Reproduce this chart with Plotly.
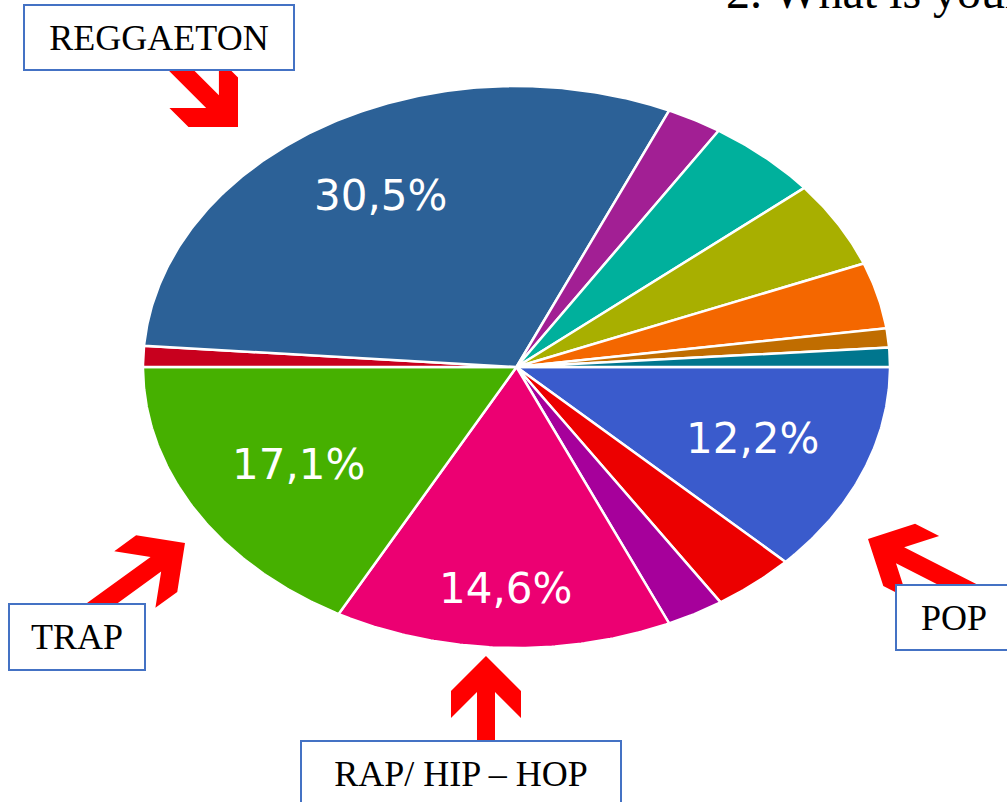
import numpy as np
import plotly.graph_objects as go

# ---- data: slices listed clockwise starting at 3 o'clock ----
genres = ["POP", "Other 1", "Other 2", "RAP/ HIP – HOP", "TRAP", "Other 3",
          "REGGAETON", "Other 4", "Other 5", "Other 6", "Other 7", "Other 8", "Other 9"]
shares = [12.2, 3.6, 2.5, 14.6, 17.1, 1.2, 30.5, 2.4, 4.9, 5.0, 3.8, 1.1, 1.1]
colors = ["#3A5BCC", "#EC0000", "#A6009B", "#EC0072", "#46B000", "#C8001E",
          "#2C6197", "#A21F94", "#00B09C", "#A8AF00", "#F46700", "#C06D00", "#00768E"]
labelled = ["POP", "RAP/ HIP – HOP", "TRAP", "REGGAETON"]

callouts = ["REGGAETON", "TRAP", "RAP/ HIP – HOP", "POP"]
heading = "2. What is your"

# ---- layout geometry (pixels) ----
W, H = 1007, 802
CX, CY, RX, RY = 516.5, 367.0, 373.5, 281.0   # ellipse centre and radii
label_r = {"POP": 0.68, "RAP/ HIP – HOP": 0.79, "TRAP": 0.68, "REGGAETON": 0.71}

fig = go.Figure()

# pie slices drawn as filled wedges in unit-circle data space;
# the axis ranges stretch the circle into the ellipse
start = 0.0
mids = {}
for name, v, c in zip(genres, shares, colors):
    span = v / 100.0 * 2 * np.pi
    end = start - span
    n = max(6, int(np.degrees(span) * 2))
    t = np.linspace(start, end, n)
    xs = np.concatenate([[0.0], np.cos(t), [0.0]])
    ys = np.concatenate([[0.0], np.sin(t), [0.0]])
    fig.add_trace(go.Scatter(
        x=xs, y=ys, mode="lines", fill="toself", fillcolor=c,
        line=dict(color="white", width=2.5), hoverinfo="text",
        text=f"{name}: {v}%", showlegend=False))
    mids[name] = ((start + end) / 2, v)
    start = end

# percentage labels on the four main genres
for name in labelled:
    a, v = mids[name]
    r = label_r[name]
    fig.add_annotation(
        x=r * np.cos(a), y=r * np.sin(a), xref="x", yref="y",
        text=f"{v:.1f}%".replace(".", ","), showarrow=False,
        font=dict(family="DejaVu Sans", size=42, color="white"))


def px(x):
    return x / W


def py(y):
    return 1 - y / H


# red block arrows pointing at the slices: (tip x, tip y, direction deg, tail length)
arrows = [(238, 127, 45, 100), (185, 543, -36, 118), (486, 656, -90, 100), (868, 539, 207, 118)]
for tx, ty, ang, tail in arrows:
    d = np.array([np.cos(np.radians(ang)), np.sin(np.radians(ang))])
    p = np.array([-d[1], d[0]])
    local = [(0, 0), (-35, 35), (-62, 35), (-36, 9), (-tail, 9), (-tail, -9),
             (-36, -9), (-62, -35), (-35, -35)]
    pts = [np.array([tx, ty]) + u * d + v * p for u, v in local]
    path = "M " + " L ".join(f"{px(q[0]):.5f},{py(q[1]):.5f}" for q in pts) + " Z"
    fig.add_shape(type="path", path=path, xref="paper", yref="paper",
                  fillcolor="#FF0000", line=dict(width=0), layer="above")

# callout boxes: (left, top, width, height)
boxes = [(23, 4, 268, 63), (8, 603, 134, 64), (300, 740, 318, 64), (895, 584, 114, 63)]
for text, (bx, by, bw, bh) in zip(callouts, boxes):
    fig.add_annotation(
        x=px(bx), y=py(by), xref="paper", yref="paper", xanchor="left", yanchor="top",
        text=text, showarrow=False, width=bw, height=bh, align="center", valign="middle",
        bgcolor="white", bordercolor="#4472C4", borderwidth=2, borderpad=0,
        font=dict(family="Liberation Serif", size=36, color="black"))

fig.add_annotation(
    x=px(724), y=py(20), xref="paper", yref="paper", xanchor="left", yanchor="bottom",
    text=heading, showarrow=False,
    font=dict(family="Liberation Serif", size=48, color="black"))

fig.update_layout(
    width=W, height=H, margin=dict(l=0, r=0, t=0, b=0),
    paper_bgcolor="white", plot_bgcolor="white",
    xaxis=dict(range=[-CX / RX, (W - CX) / RX], visible=False, domain=[0, 1]),
    yaxis=dict(range=[-(H - CY) / RY, CY / RY], visible=False, domain=[0, 1]),
)

fig.write_html("out.html")
